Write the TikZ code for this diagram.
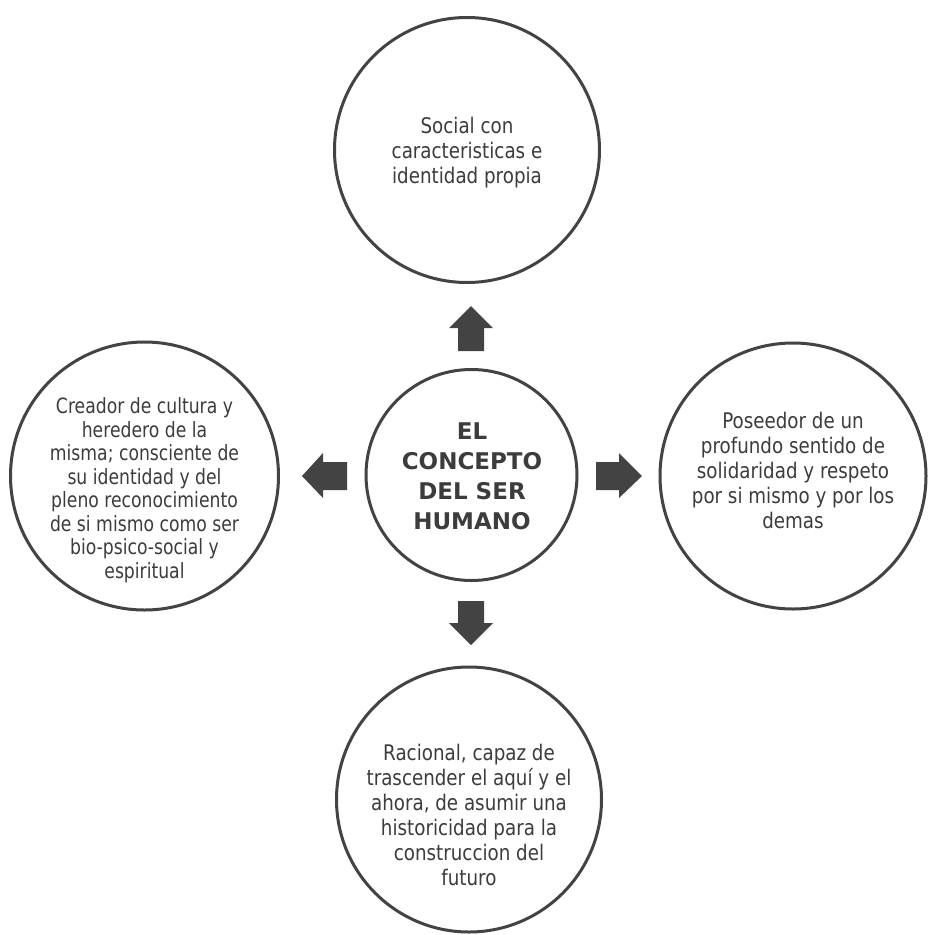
\documentclass[tikz,border=0pt]{standalone}
\usepackage{fontspec}
\setmainfont{DejaVu Sans}[FakeStretch=0.82]
\newfontfamily\widef{DejaVu Sans}[FakeStretch=0.85]
\newfontfamily\ctrfont{DejaVu Sans}
\definecolor{dk}{HTML}{434343}
\definecolor{tx}{HTML}{3C3C3C}
\begin{document}
\begin{tikzpicture}[x=1pt,y=-1pt,
  circ/.style={circle, draw=dk, line width=3pt, inner sep=0pt, fill=white},
  txt/.style={align=center, text=tx, font=\widef\fontsize{21.5}{25}\selectfont, inner sep=0pt},
  txtl/.style={align=center, text=tx, font=\fontsize{21}{23.5}\selectfont, inner sep=0pt},
  ctr/.style={align=center, text=tx, font=\ctrfont\bfseries\fontsize{23}{30}\selectfont, inner sep=0pt},
  blk/.style={fill=dk, draw=none}]
\useasboundingbox[fill=white] (0,0) rectangle (928,935);

% circles
\node[circ, minimum size=265pt] (top) at (467,150) {};
\node[circ, minimum size=211pt] (mid) at (471.5,475) {};
\node[circ, minimum size=268pt] (lft) at (144.5,476) {};
\node[circ, minimum size=266pt] (rgt) at (793,476) {};
\node[circ, minimum size=265pt] (bot) at (469,799.5) {};

% texts
\node[txt] (topt) at (467,153) {Social con\\caracteristicas e\\identidad propia};
\node[ctr] (midt) at (472,476) {EL\\CONCEPTO\\DEL SER\\HUMANO};
\node[txtl] (lftt) at (144.5,490) {Creador de cultura y\\heredero de la\\misma; consciente de\\su identidad y del\\pleno reconocimiento\\de si mismo como ser\\bio-psico-social y\\espiritual};
\node[txt] (rgtt) at (793,470) {Poseedor de un\\profundo sentido de\\solidaridad y respeto\\por si mismo y por los\\demas};
\node[txt] (bott) at (469,815) {Racional, capaz de\\trascender el aquí y el\\ahora, de asumir una\\historicidad para la\\construccion del\\futuro};

% block arrows
\fill[blk] (458,351) -- (458,328) -- (449,328) -- (471,306) -- (493,328) -- (484,328) -- (484,351) -- cycle;
\fill[blk] (458,601) -- (458,623) -- (449,623) -- (471,645) -- (493,623) -- (484,623) -- (484,601) -- cycle;
\fill[blk] (347,462) -- (323,462) -- (323,453) -- (302,476) -- (323,498) -- (323,490) -- (347,490) -- cycle;
\fill[blk] (596,462) -- (619,462) -- (619,453) -- (642,476) -- (619,498) -- (619,490) -- (596,490) -- cycle;
\end{tikzpicture}
\end{document}
